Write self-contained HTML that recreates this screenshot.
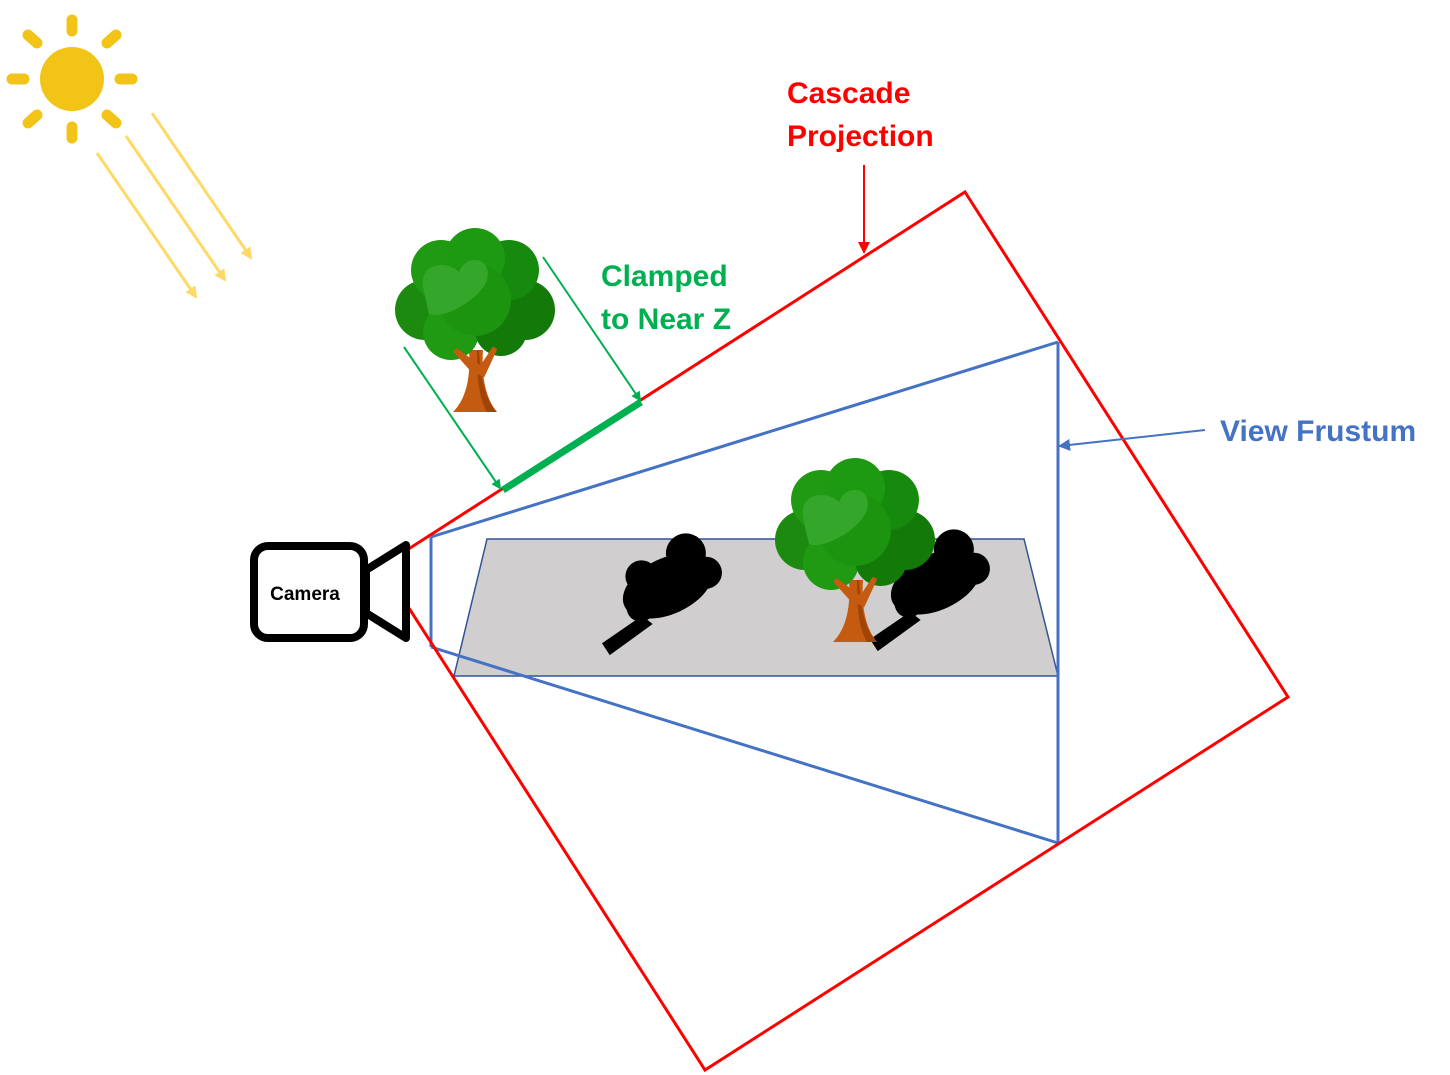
<!DOCTYPE html>
<html><head><meta charset="utf-8"><style>
html,body{margin:0;padding:0;background:#fff;}
svg{display:block;}
text{font-family:"Liberation Sans",sans-serif;font-weight:bold;}
</style></head><body>
<svg width="1450" height="1075" viewBox="0 0 1450 1075">
<defs>
<marker id="ag" markerWidth="10" markerHeight="10" refX="8" refY="5" orient="auto" markerUnits="userSpaceOnUse"><path d="M0,0 L10,5 L0,10 z" fill="#00b050"/></marker>
<marker id="ar" markerWidth="12" markerHeight="12" refX="10" refY="6" orient="auto" markerUnits="userSpaceOnUse"><path d="M0,0 L12,6 L0,12 z" fill="#f00"/></marker>
<marker id="ab" markerWidth="12" markerHeight="12" refX="10" refY="6" orient="auto" markerUnits="userSpaceOnUse"><path d="M0,0 L12,6 L0,12 z" fill="#4472c4"/></marker>
<marker id="ay" markerWidth="12" markerHeight="12" refX="10" refY="6" orient="auto" markerUnits="userSpaceOnUse"><path d="M0,0 L12,6 L0,12 z" fill="#ffd966"/></marker>
<g id="tree">
<path d="M-6,40 C-4,70 -10,90 -22,102 L22,102 C12,90 6,70 8,40 Z" fill="#c55a11"/>
<path d="M4,40 C6,70 10,90 22,102 L12,102 C4,88 2,70 2,40 Z" fill="#a04505"/>
<circle cx="-50" cy="0" r="30" fill="#1b8a0f"/>
<circle cx="50" cy="0" r="30" fill="#137a0a"/>
<circle cx="-34" cy="-40" r="30" fill="#1f9a12"/>
<circle cx="34" cy="-40" r="30" fill="#168a0c"/>
<circle cx="0" cy="-52" r="30" fill="#1e9912"/>
<circle cx="-24" cy="22" r="28" fill="#1f9a12"/>
<circle cx="26" cy="20" r="26" fill="#137a0a"/>
<circle cx="0" cy="-10" r="36" fill="#1c9410"/>
<path d="M-52,-22 C-56,-48 -28,-50 -16,-38 C-10,-56 18,-54 12,-30 C6,-12 -30,10 -46,4 Z" fill="#34a62a"/>
<path d="M-20,40 L-2,60 L2,56 Z M20,38 L4,62 L8,64 Z" fill="#c55a11" stroke="#c55a11" stroke-width="5"/>
</g>
<g id="shadow">
<ellipse cx="0" cy="0" rx="48" ry="28" fill="#000"/>
<circle cx="30" cy="-22" r="20" fill="#000"/><circle cx="-20" cy="-20" r="16" fill="#000"/>
<circle cx="40" cy="4" r="16" fill="#000"/><circle cx="-34" cy="8" r="14" fill="#000"/>
<path d="M-36,16 L-84,24 L-82,38 L-30,28 Z" fill="#000"/>
</g>
</defs>

<g>
<circle cx="72" cy="79" r="32" fill="#f2c418"/>
<g stroke="#f2c418" stroke-width="11" stroke-linecap="round">
<line x1="72" y1="20" x2="72" y2="31"/><line x1="72" y1="127" x2="72" y2="138"/>
<line x1="12" y1="79" x2="24" y2="79"/><line x1="120" y1="79" x2="132" y2="79"/>
<line x1="28" y1="35" x2="37" y2="43"/><line x1="107" y1="115" x2="116" y2="123"/>
<line x1="28" y1="123" x2="37" y2="115"/><line x1="107" y1="43" x2="116" y2="35"/>
</g></g>
<g stroke="#ffd966" stroke-width="3">
<line x1="152" y1="113" x2="251" y2="258" marker-end="url(#ay)"/><line x1="126" y1="136" x2="225" y2="280" marker-end="url(#ay)"/><line x1="97" y1="153" x2="196" y2="297" marker-end="url(#ay)"/>
</g>

<polygon points="487,539 1024,539 1058,676 454,676" fill="#d0cece" stroke="#2f5597" stroke-width="1.5"/>
<g transform="translate(668,586) rotate(-25)"><use href="#shadow"/></g>
<g transform="translate(936,582) rotate(-25)"><use href="#shadow"/></g>

<g fill="none" stroke="#4472c4" stroke-width="3">
<line x1="431" y1="537" x2="1058" y2="342"/><line x1="431" y1="647" x2="1058" y2="843"/>
<line x1="1058" y1="342" x2="1058" y2="843"/><line x1="431" y1="537" x2="431" y2="647"/>
</g>
<polygon points="965,192 1288,697 705,1070 382,566" fill="none" stroke="#f00" stroke-width="3"/>

<g transform="translate(855,540)"><use href="#tree"/></g>
<g transform="translate(475,310)"><use href="#tree"/></g>

<line x1="503" y1="490" x2="641" y2="402" stroke="#00b050" stroke-width="7"/>
<line x1="404" y1="347" x2="500" y2="488" stroke="#00b050" stroke-width="2" marker-end="url(#ag)"/>
<line x1="543" y1="257" x2="640" y2="400" stroke="#00b050" stroke-width="2" marker-end="url(#ag)"/>
<line x1="864" y1="165" x2="864" y2="252" stroke="#f00" stroke-width="2" marker-end="url(#ar)"/>
<line x1="1205" y1="430" x2="1060" y2="446" stroke="#4472c4" stroke-width="2" marker-end="url(#ab)"/>

<g>
<rect x="254" y="546" width="110" height="92" rx="14" fill="#fff" stroke="#000" stroke-width="8"/>
<polygon points="366,570 406,545 406,638 366,613" fill="#fff" stroke="#000" stroke-width="8" stroke-linejoin="round"/>
<text x="305" y="600" font-size="19" text-anchor="middle" fill="#000">Camera</text>
</g>

<text x="787" y="103" font-size="30" fill="#f00">Cascade</text>
<text x="787" y="146" font-size="30" fill="#f00">Projection</text>
<text x="601" y="286" font-size="30" fill="#00b050">Clamped</text>
<text x="601" y="329" font-size="30" fill="#00b050">to Near Z</text>
<text x="1220" y="441" font-size="30" fill="#4472c4">View Frustum</text>
</svg>
</body></html>
